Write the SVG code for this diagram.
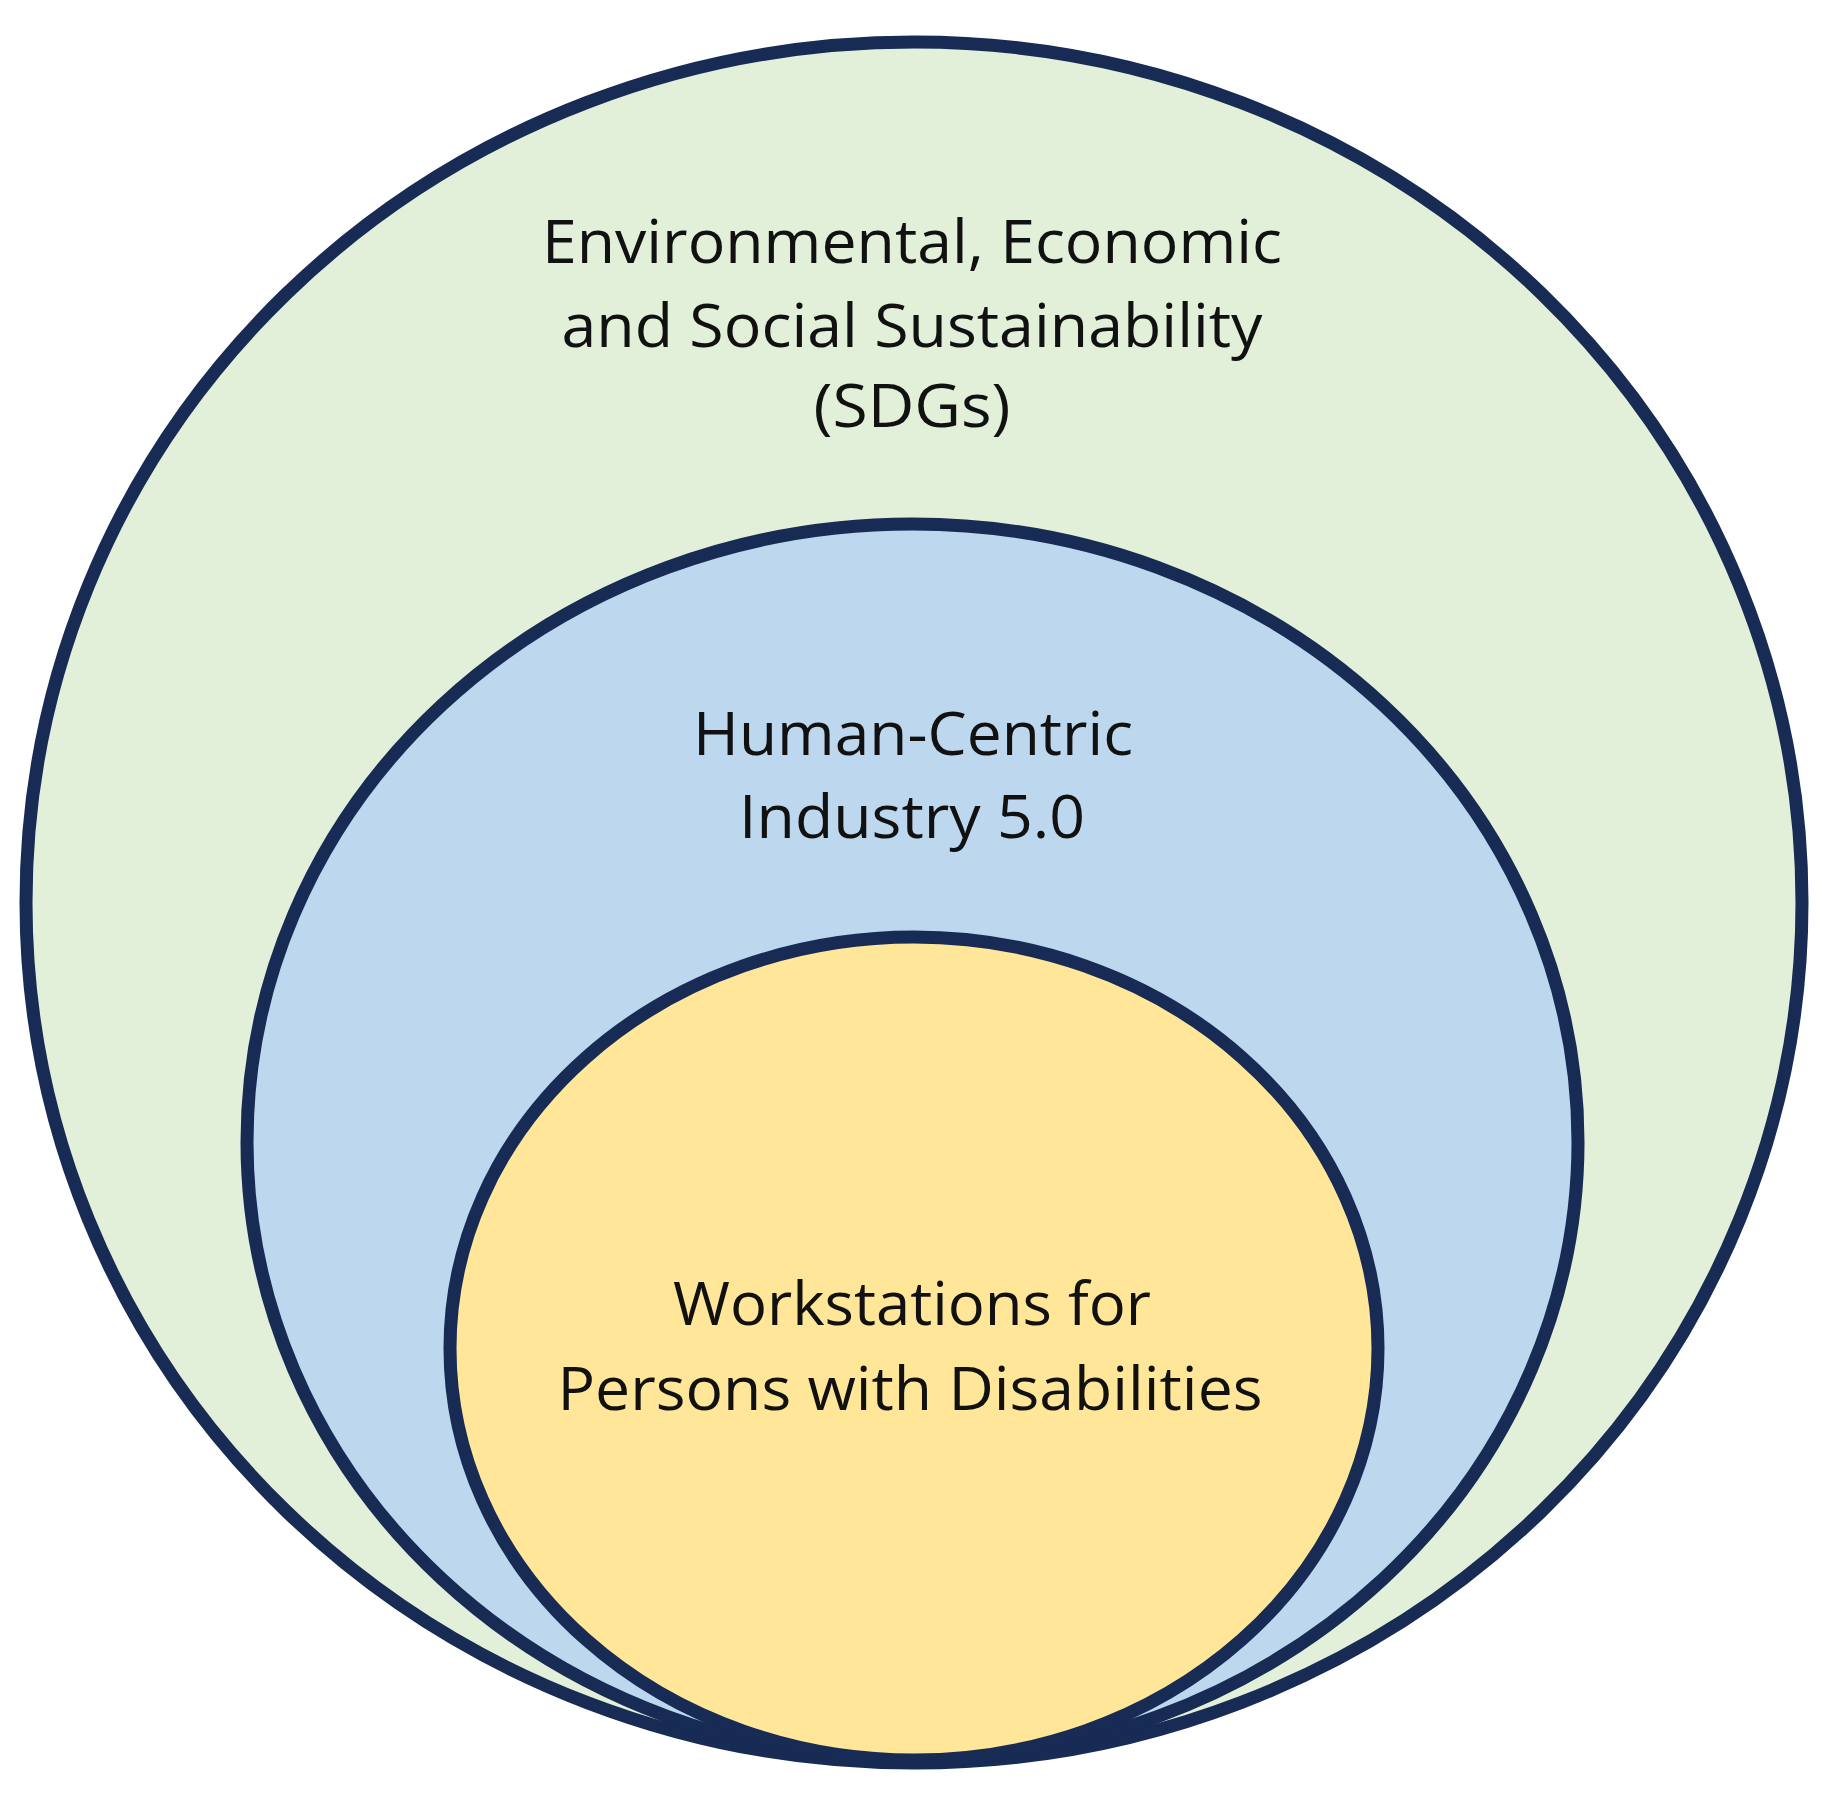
<svg xmlns="http://www.w3.org/2000/svg" width="1847" height="1801" viewBox="0 0 1847 1801">
<style>
.ring{stroke:#172B54;stroke-width:13}
.lbl{font-family:"Open Sans","Noto Sans","Liberation Sans",sans-serif;font-size:60px;fill:#111;text-anchor:middle}
</style>
<rect width="1847" height="1801" fill="#ffffff"/>
<g id="outer">
<ellipse class="ring" cx="914" cy="902.5" rx="888" ry="860.5" fill="#E2EFD9"/>
<text class="lbl" x="912" y="263" textLength="740" lengthAdjust="spacingAndGlyphs">Environmental, Economic</text>
<text class="lbl" x="912" y="347" textLength="701" lengthAdjust="spacingAndGlyphs">and Social Sustainability</text>
<text class="lbl" x="912" y="427" textLength="197" lengthAdjust="spacingAndGlyphs">(SDGs)</text>
</g>
<g id="middle">
<ellipse class="ring" cx="912.5" cy="1142" rx="665.5" ry="618" fill="#BDD7EE"/>
<text class="lbl" x="913" y="755" textLength="440" lengthAdjust="spacingAndGlyphs">Human-Centric</text>
<text class="lbl" x="912" y="838" textLength="346" lengthAdjust="spacingAndGlyphs">Industry 5.0</text>
</g>
<g id="inner">
<ellipse class="ring" cx="914" cy="1348.5" rx="464" ry="411.5" fill="#FFE699"/>
<text class="lbl" x="912" y="1325" textLength="478" lengthAdjust="spacingAndGlyphs">Workstations for</text>
<text class="lbl" x="910" y="1410" textLength="705" lengthAdjust="spacingAndGlyphs">Persons with Disabilities</text>
</g>
<g id="connectors"></g>
</svg>
